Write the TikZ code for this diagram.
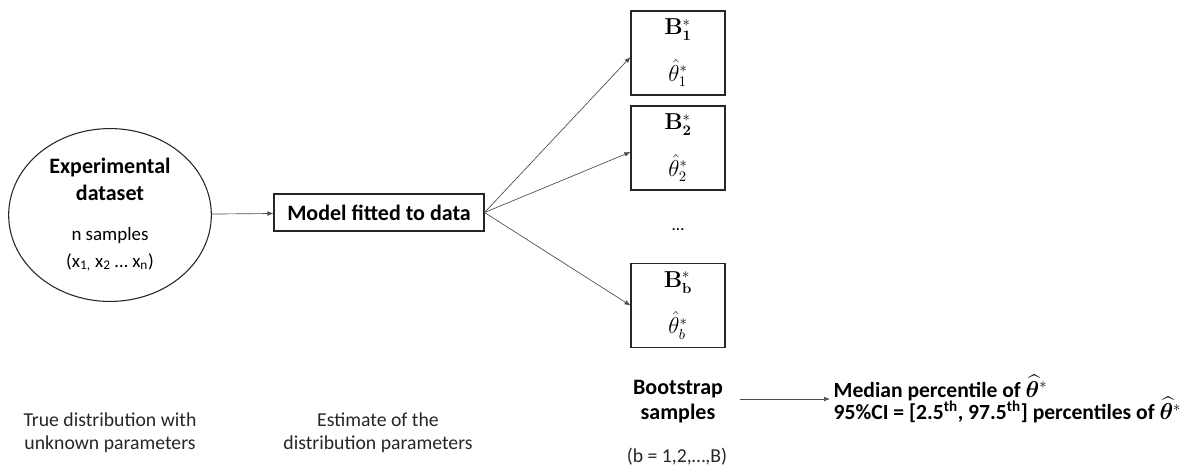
\documentclass[tikz,border=0pt]{standalone}
\usepackage{amsmath, amssymb}
\usepackage{bm}
\usepackage[no-math]{fontspec}
\setmainfont{Carlito}
\usetikzlibrary{positioning,shapes.geometric,arrows.meta}

\begin{document}
\begin{tikzpicture}[x=0.75pt, y=-0.75pt,
  boot_box/.style={draw=black!85, line width=0.8pt, minimum width=70.5pt, minimum height=63pt, align=center, font=\fontsize{16}{18}\selectfont},
  flow_arrow/.style={draw=black!70, line width=0.5pt, -{Latex[length=4.5pt, width=3.5pt]}},
  side_text/.style={align=center, font=\fontsize{14.8}{17.5}\selectfont, text=black!85}]
\useasboundingbox (0,0) rectangle (1201,472);
\node[ellipse, draw=black!85, line width=0.8pt, minimum width=152pt, minimum height=125pt, align=center, font=\fontsize{16.5}{20}\selectfont\bfseries] (exp_data) at (110,215) {Experimental\\dataset\\[10pt]\mdseries\fontsize{14.2}{19.5}\selectfont n samples\\\mdseries\fontsize{14.2}{19.5}\selectfont (x\textsubscript{1,} x\textsubscript{2} … x\textsubscript{n})};
\node[draw=black!85, line width=0.8pt, minimum width=157.5pt, minimum height=27.75pt, font=\fontsize{16.5}{19}\selectfont\bfseries] (model_fit) at (379,212.5) {Model fitted to data};
\node[boot_box] (boot_one) at (678,53) {$\mathbf{B}_{\mathbf{1}}^{*}$\\[13pt] $\hat{\theta}_{1}^{*}$};
\node[boot_box] (boot_two) at (678,148) {$\mathbf{B}_{\mathbf{2}}^{*}$\\[13pt] $\hat{\theta}_{2}^{*}$};
\node[font=\fontsize{13}{15}\selectfont] (boot_dots) at (678,230) {…};
\node[boot_box] (boot_b) at (678,305.5) {$\mathbf{B}_{\mathbf{b}}^{*}$\\[13pt] $\hat{\theta}_{b}^{*}$};
\node[align=center, font=\fontsize{16.5}{18.75}\selectfont\bfseries] (boot_label) at (678,402) {Bootstrap\\samples};
\node[side_text] (boot_range) at (677,457) {(b = 1,2,…,B)};
\node[anchor=west, align=left, font=\fontsize{16.2}{15}\selectfont\bfseries] (boot_result) at (829,399) {Median percentile of $\widehat{\bm{\theta}}^{*}$\\[-3.5pt]95\%CI = [2.5\textsuperscript{th}, 97.5\textsuperscript{th}] percentiles of $\widehat{\bm{\theta}}^{*}$};
\node[side_text] (true_text) at (110,433) {True distribution with\\unknown parameters};
\node[side_text] (est_text) at (378,433) {Estimate of the\\distribution parameters};
\coordinate (result_in) at (830,399);
\coordinate (result_out) at (740,399);
\draw[flow_arrow] (exp_data) to (model_fit);
\draw[flow_arrow] (model_fit.east) to ([yshift=-3pt]boot_one.west);
\draw[flow_arrow] (model_fit.east) to ([yshift=-3pt]boot_two.west);
\draw[flow_arrow] (model_fit.east) to (boot_b.west);
\draw[flow_arrow] (result_out) to (result_in);
\end{tikzpicture}
\end{document}
